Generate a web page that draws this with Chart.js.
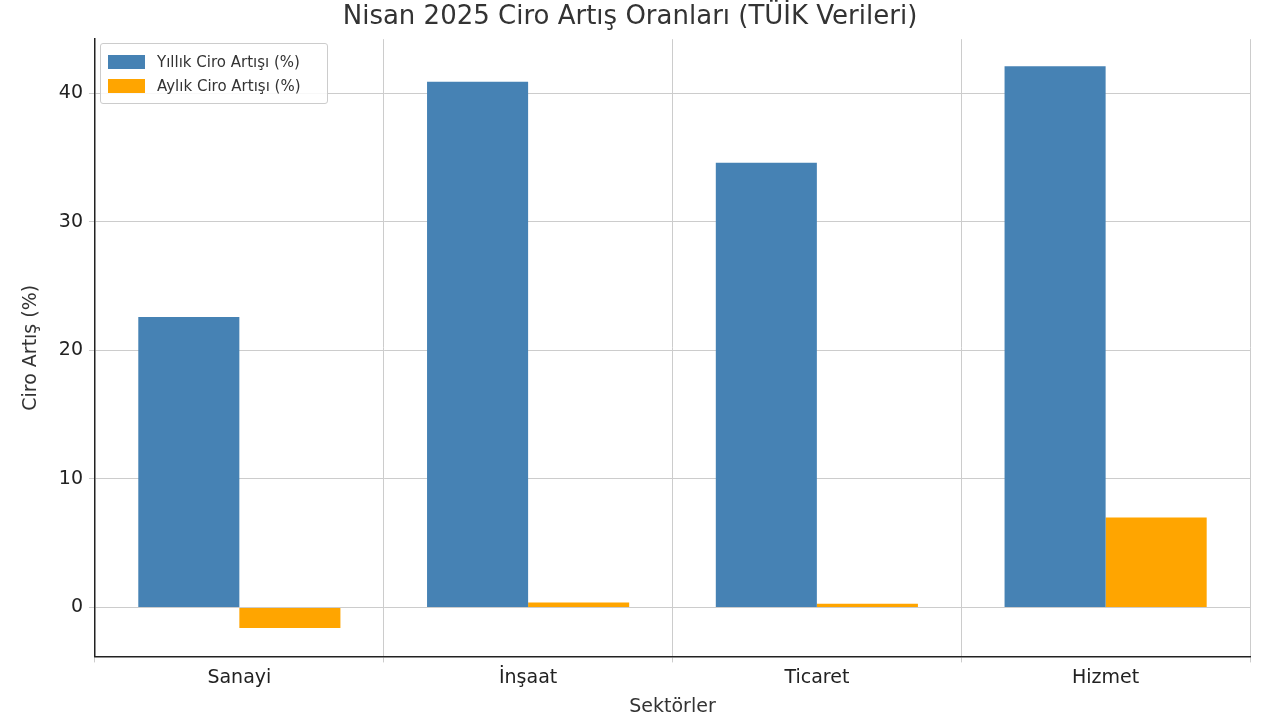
<!DOCTYPE html>
<html><head><meta charset="utf-8">
<script src="https://cdn.jsdelivr.net/npm/chart.js@4"></script>
<style>
body{margin:0;background:#fff;font-family:"DejaVu Sans",sans-serif}
#wrap{position:relative;width:1280px;height:720px}
#legend{position:absolute;left:100px;top:43px;width:228px;height:61px;border:1px solid #ccc;border-radius:3px;background:rgba(255,255,255,.85);font-size:15px;color:#333;box-sizing:border-box;padding:6px 7px}
#legend div{display:flex;align-items:center;height:24px}
#legend span{display:inline-block;width:37px;height:14px;margin-right:12px}
</style></head><body>
<div id="wrap"><canvas id="c" width="1280" height="720"></canvas>
<div id="legend"></div></div>
<script>
const sectors = ['Sanayi', 'İnşaat', 'Ticaret', 'Hizmet'];
const yearly = [22.6, 40.9, 34.6, 42.1];
const monthly = [-1.6, 0.4, 0.3, 7.0];
const labels = ['Yıllık Ciro Artışı (%)', 'Aylık Ciro Artışı (%)'];
const colors = ['#4682b4', '#ffa500'];

document.getElementById('legend').innerHTML = labels.map((l, i) =>
  `<div><span style="background:${colors[i]}"></span>${l}</div>`).join('');

const grid = { color: '#ccc', borderDash: [4, 3], drawTicks: false };
new Chart(document.getElementById('c'), {
  type: 'bar',
  data: {
    labels: sectors,
    datasets: [
      { label: labels[0], data: yearly, backgroundColor: colors[0] },
      { label: labels[1], data: monthly, backgroundColor: colors[1] }
    ]
  },
  options: {
    animation: false, responsive: false,
    categoryPercentage: 0.7, barPercentage: 1,
    layout: { padding: { right: 30, top: 0, left: 10 } },
    plugins: {
      legend: { display: false },
      title: { display: true, text: 'Nisan 2025 Ciro Artış Oranları (TÜİK Verileri)',
        color: '#333', font: { size: 26, family: 'DejaVu Sans', weight: 'normal' }, padding: { top: 2, bottom: 6 } }
    },
    scales: {
      x: {
        grid: { ...grid, tickLength: 6, drawTicks: true },
        border: { color: '#222', width: 1.5 },
        ticks: { color: '#222', font: { size: 19, family: 'DejaVu Sans' }, padding: 4 },
        title: { display: true, text: 'Sektörler', color: '#333', font: { size: 19, family: 'DejaVu Sans' }, padding: 2 }
      },
      y: {
        min: -3.8, max: 44.2,
        grid: { ...grid, tickLength: 6, drawTicks: true },
        border: { color: '#222', width: 1.5 },
        afterBuildTicks: s => { s.ticks = [0, 10, 20, 30, 40].map(v => ({ value: v })); },
        ticks: { color: '#222', font: { size: 19, family: 'DejaVu Sans' }, padding: 6 },
        title: { display: true, text: 'Ciro Artış (%)', color: '#333', font: { size: 19, family: 'DejaVu Sans' }, padding: 10 }
      }
    }
  }
});
</script></body></html>
